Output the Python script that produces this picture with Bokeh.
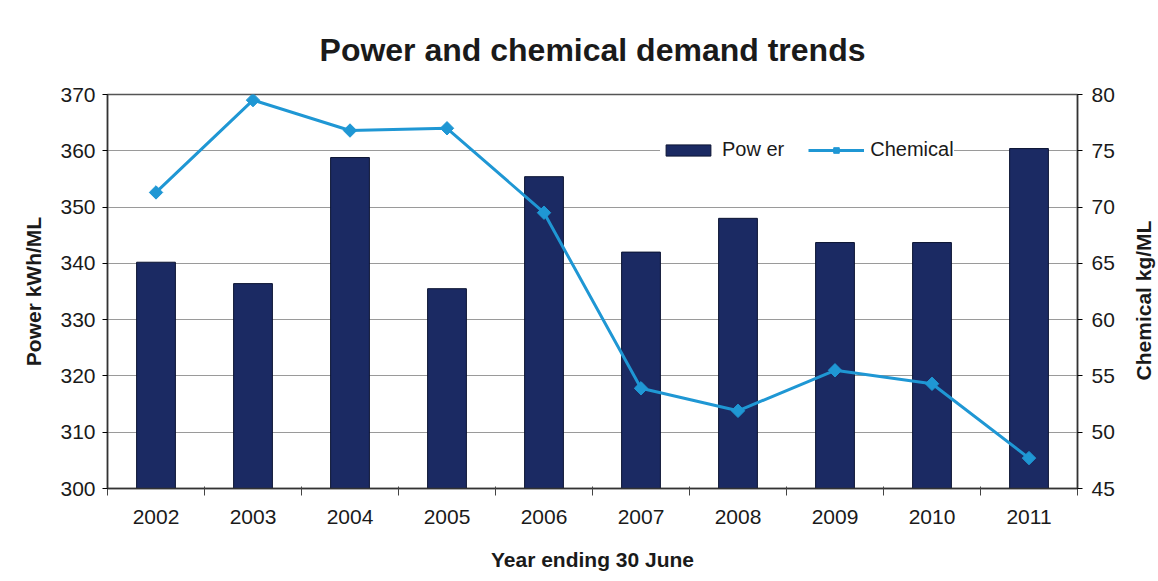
import math
import numpy as np
from bokeh.plotting import figure
from bokeh.models import (LinearAxis, Range1d, FixedTicker, Legend, LegendItem,
                          ColumnDataSource, Label)
from bokeh.embed import file_html
from bokeh.resources import INLINE

# ---- data ----
years = ["2002", "2003", "2004", "2005", "2006", "2007", "2008", "2009", "2010", "2011"]
power = [340.2, 336.4, 358.8, 335.5, 355.4, 342.0, 348.0, 343.7, 343.7, 360.4]
chemical = [71.3, 79.5, 76.8, 77.0, 69.5, 53.9, 51.9, 55.5, 54.3, 47.7]
power_ticks = [300, 310, 320, 330, 340, 350, 360, 370]
chem_ticks = [45, 50, 55, 60, 65, 70, 75, 80]

x = list(range(1, len(years) + 1))
src = ColumnDataSource(dict(x=x, power=power, chem=chemical, year=years))

FONT = "Liberation Sans"
TXT = "#1a1a1a"

p = figure(width=1158, height=581, output_backend="svg", toolbar_location=None,
           x_range=Range1d(0.5, len(years) + 0.5),
           y_range=Range1d(power_ticks[0], power_ticks[-1]),
           min_border_left=107, min_border_right=81, min_border_top=94,
           min_border_bottom=93)
p.extra_y_ranges = {"chem": Range1d(chem_ticks[0], chem_ticks[-1])}

p.outline_line_color = "#555555"
p.outline_line_width = 1.5
p.background_fill_color = "white"
p.border_fill_color = "white"

# title
p.title.text = "Power and chemical demand trends"
p.title.align = "center"
p.title.text_font = FONT
p.title.text_font_size = "32px"
p.title.text_font_style = "bold"
p.title.text_color = TXT
p.title.standoff = 54

# bars
bars = p.vbar(x="x", top="power", bottom=power_ticks[0], width=0.4, source=src,
              fill_color="#1b2a63", line_color="#0c1433", line_width=1)

# chemical line
line = p.line("x", "chem", source=src, y_range_name="chem",
              line_color="#1f97d4", line_width=3)
pts = p.scatter("x", "chem", source=src, y_range_name="chem", marker="square",
                angle=math.pi / 4, size=9.5, fill_color="#1f97d4", line_color="#1f97d4")

# x axis
xa = p.xaxis[0]
xa.ticker = FixedTicker(ticks=x, minor_ticks=[i + 0.5 for i in range(0, len(years) + 1)])
xa.major_label_overrides = {i: y for i, y in zip(x, years)}
xa.major_tick_out = 0
xa.major_tick_in = 0
xa.minor_tick_out = 7
xa.minor_tick_in = 2
xa.minor_tick_line_color = "#444444"
xa.axis_line_color = "#333333"
xa.axis_line_width = 1.5
xa.major_label_text_font = FONT
xa.major_label_text_font_size = "21px"
xa.major_label_text_color = TXT
xa.major_label_standoff = 14
xa.axis_label = "Year ending 30 June"
xa.axis_label_text_font = FONT
xa.axis_label_text_font_size = "21px"
xa.axis_label_text_font_style = "bold"
xa.axis_label_text_color = TXT
xa.axis_label_standoff = 21

# left axis
ya = p.yaxis[0]
ya.ticker = FixedTicker(ticks=power_ticks)
ya.minor_tick_line_color = None
ya.major_tick_out = 5
ya.major_tick_in = 0
ya.axis_line_color = "#333333"
ya.axis_line_width = 1.5
ya.major_label_text_font = FONT
ya.major_label_text_font_size = "21px"
ya.major_label_text_color = TXT
ya.major_label_standoff = 7
ya.axis_label = "Power kWh/ML"
ya.axis_label_text_font = FONT
ya.axis_label_text_font_size = "21px"
ya.axis_label_text_font_style = "bold"
ya.axis_label_text_color = TXT
ya.axis_label_standoff = 12

# right axis
ra = LinearAxis(y_range_name="chem", ticker=FixedTicker(ticks=chem_ticks))
ra.minor_tick_line_color = None
ra.major_tick_out = 5
ra.major_tick_in = 0
ra.axis_line_color = "#333333"
ra.axis_line_width = 1.5
ra.major_label_text_font = FONT
ra.major_label_text_font_size = "21px"
ra.major_label_text_color = TXT
ra.major_label_standoff = 9
p.add_layout(ra, "right")

# right axis title (reads bottom-to-top as in the reference)
rlabel = Label(text="Chemical kg/ML", x=26, y=188, x_units="screen", y_units="screen",
               angle=math.pi / 2, text_align="center", text_baseline="middle",
               text_font=FONT, text_font_size="21px", text_font_style="bold",
               text_color=TXT)
p.add_layout(rlabel, "right")

# grid
p.xgrid.visible = False
p.ygrid.ticker = FixedTicker(ticks=power_ticks)
p.ygrid.grid_line_color = "#9a9a9a"
p.ygrid.grid_line_width = 1

# legend
legend = Legend(items=[LegendItem(label="Pow er", renderers=[bars]),
                       LegendItem(label="Chemical", renderers=[line, pts])],
                orientation="horizontal", location=(553, 327))
legend.background_fill_color = "white"
legend.background_fill_alpha = 1
legend.border_line_color = None
legend.label_text_font = FONT
legend.label_text_font_size = "20px"
legend.label_text_color = TXT
legend.glyph_width = 56
legend.glyph_height = 14
legend.spacing = 24
legend.label_standoff = 6
legend.padding = 4
legend.margin = 0
p.add_layout(legend)

open("out.html", "w").write(file_html(p, INLINE))
